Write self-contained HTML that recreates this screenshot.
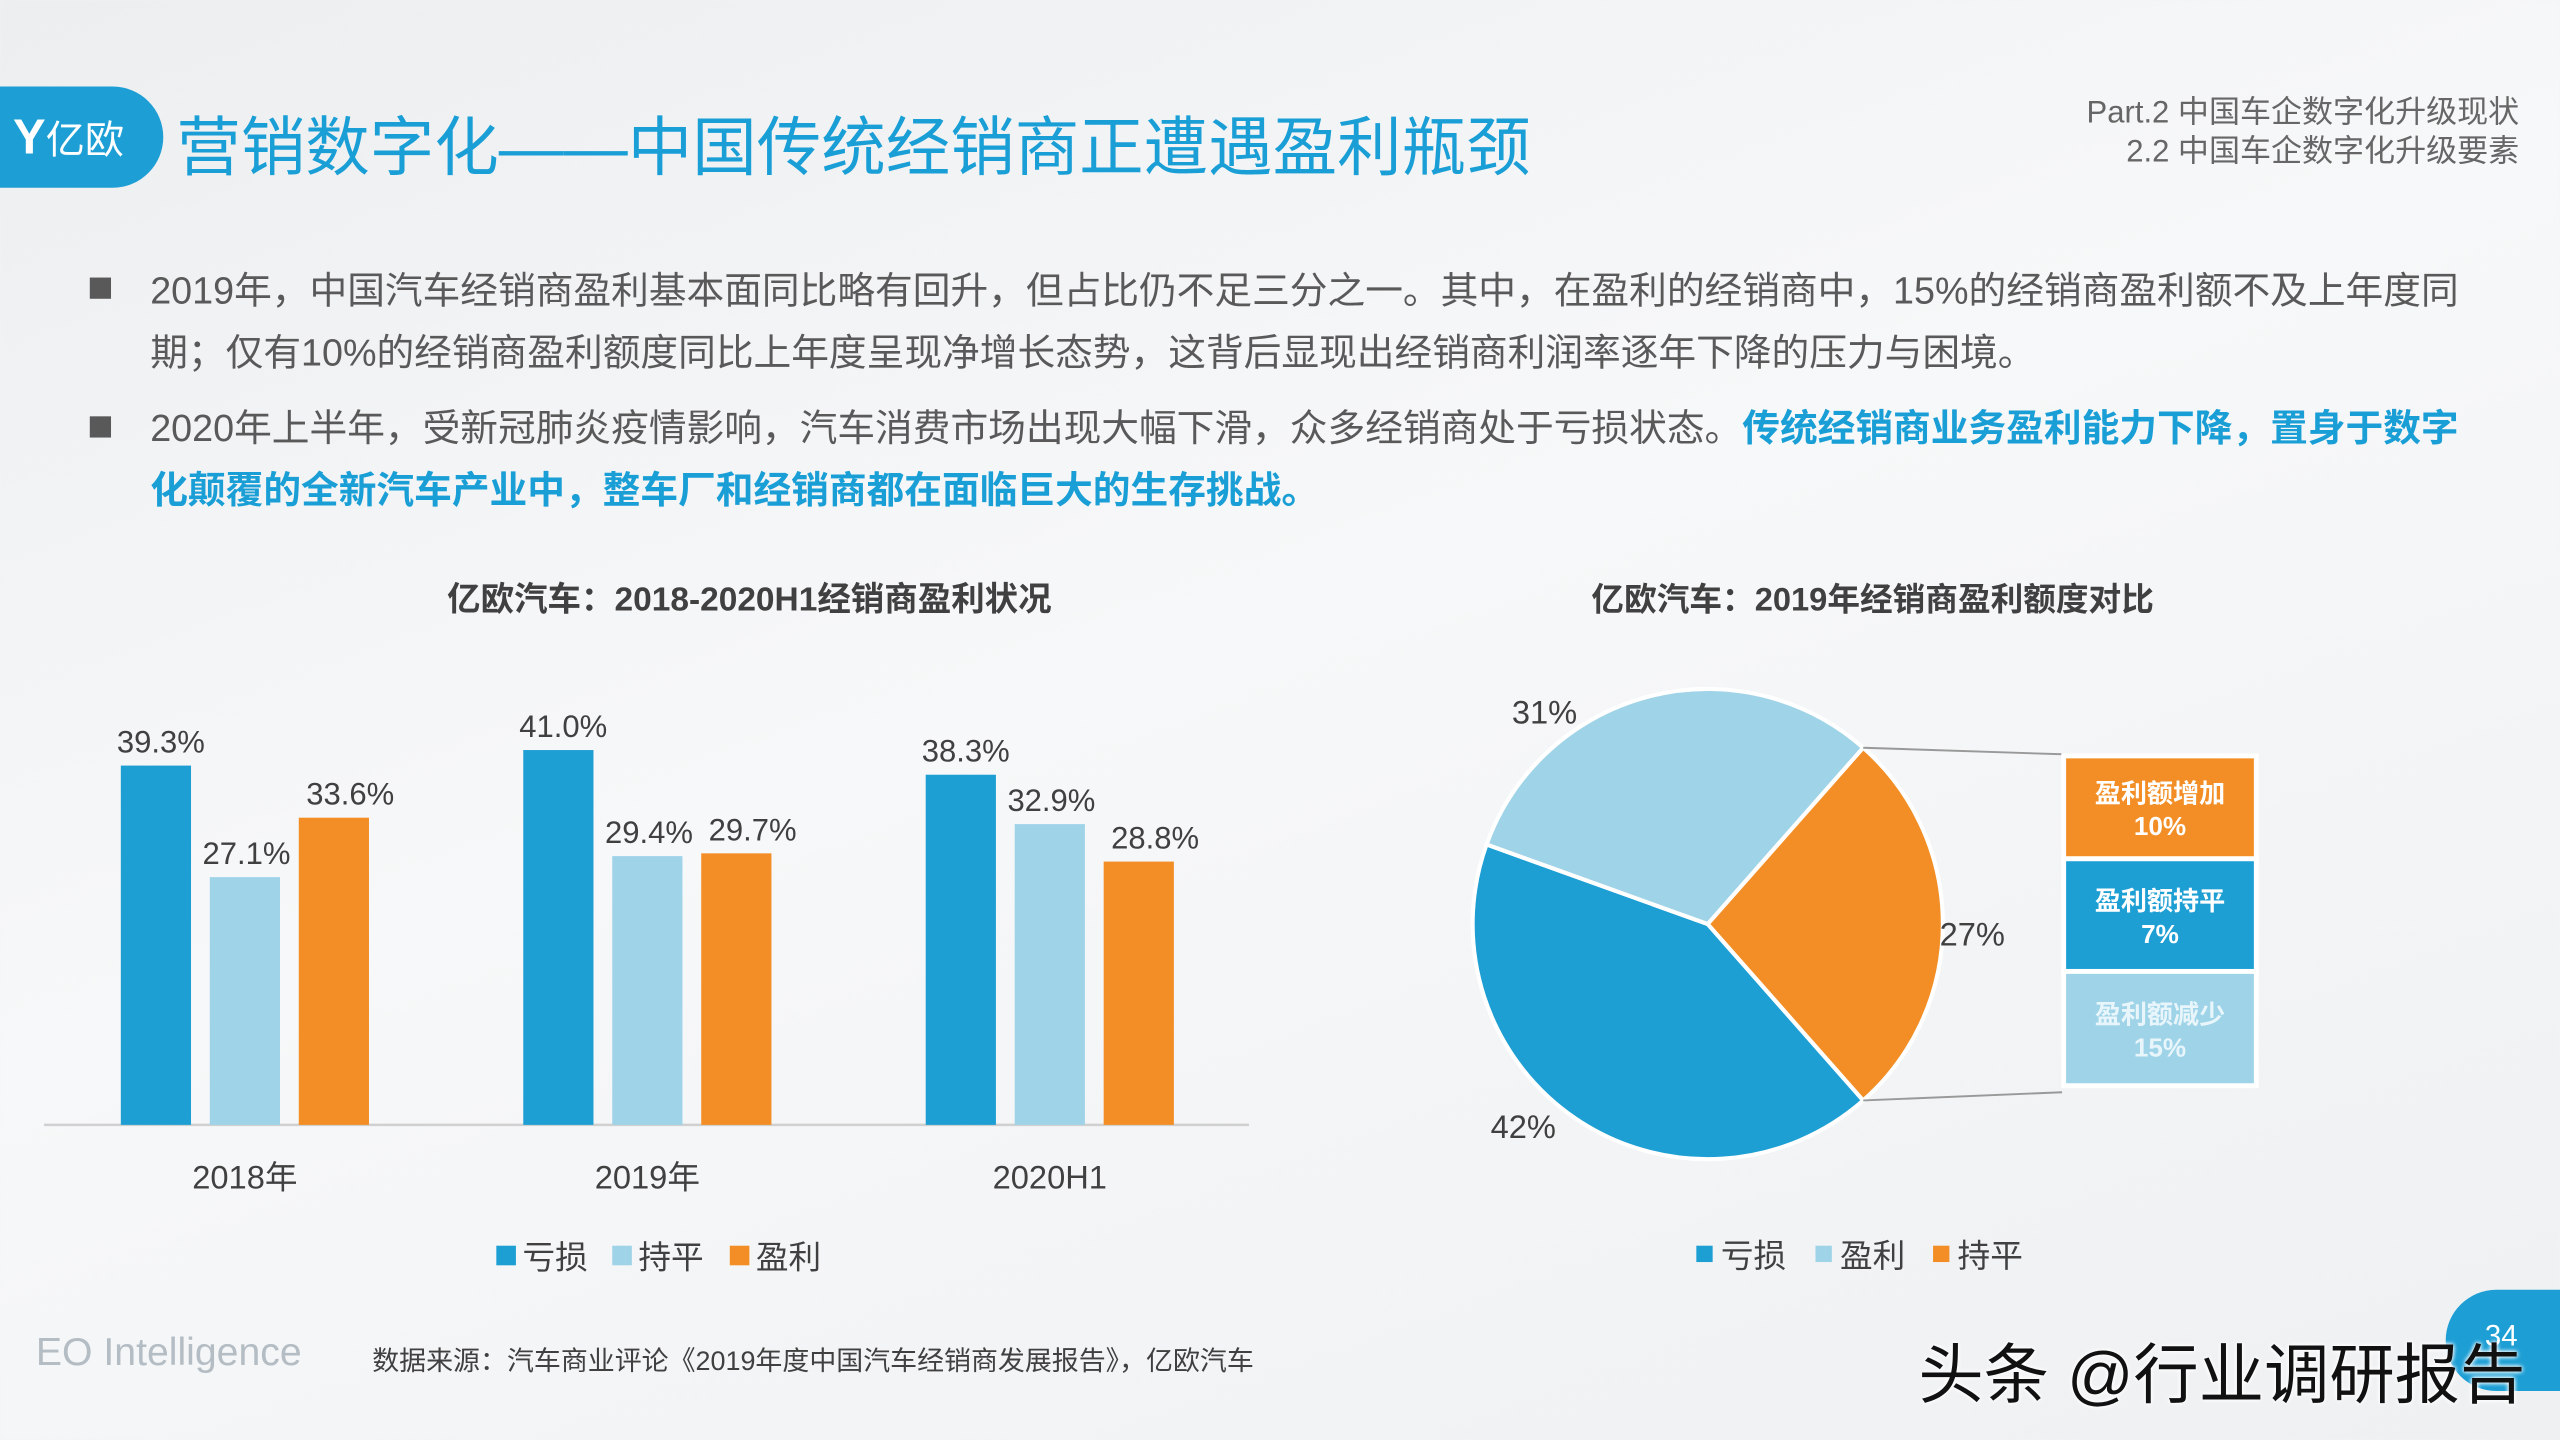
<!DOCTYPE html>
<html><head><meta charset="utf-8">
<style>
html,body{margin:0;padding:0;width:2560px;height:1440px;overflow:hidden;}
body{background:linear-gradient(160deg,#eceef0 0%,#f7f8f9 45%,#eef0f2 100%);font-family:"Liberation Sans","Noto Sans CJK SC",sans-serif;}
#stage{position:absolute;left:0;top:0;width:1568px;height:882px;transform:scale(1.63265);transform-origin:0 0;}
.abs{position:absolute;white-space:nowrap;}
.body{font-size:23.1px;color:#595959;}
.hl{color:#1a9ed6;font-weight:bold;}
</style></head><body>
<div id="stage">
  <div class="abs" style="left:0;top:53px;width:100px;height:62px;background:#1d9fd5;border-radius:0 31px 31px 0;"></div>
  <div class="abs" style="left:8px;top:66px;color:#fff;font-size:24px;"><span style="font-size:30px;font-weight:bold;">Y</span>亿欧</div>
  <div class="abs" style="left:108px;top:59px;font-size:39.5px;color:#1a9ed6;">营销数字化——中国传统经销商正遭遇盈利瓶颈</div>
  <div class="abs" style="right:25px;top:58px;font-size:19px;color:#666;text-align:right;line-height:24px;">Part.2 中国车企数字化升级现状<br>2.2 中国车企数字化升级要素</div>

  <div class="abs" style="left:55px;top:170px;width:13px;height:13px;background:#595959;"></div>
  <div class="abs body" style="left:92px;top:159px;line-height:38px;">2019年，中国汽车经销商盈利基本面同比略有回升，但占比仍不足三分之一。其中，在盈利的经销商中，15%的经销商盈利额不及上年度同<br>期；仅有10%的经销商盈利额度同比上年度呈现净增长态势，这背后显现出经销商利润率逐年下降的压力与困境。</div>
  <div class="abs" style="left:55px;top:255px;width:13px;height:13px;background:#595959;"></div>
  <div class="abs body" style="left:92px;top:243px;line-height:38px;">2020年上半年，受新冠肺炎疫情影响，汽车消费市场出现大幅下滑，众多经销商处于亏损状态。<span class="hl">传统经销商业务盈利能力下降，置身于数字</span><br><span class="hl">化颠覆的全新汽车产业中，整车厂和经销商都在面临巨大的生存挑战。</span></div>

  <div class="abs" style="left:459px;top:350px;transform:translateX(-50%);font-size:20.5px;font-weight:bold;color:#404040;">亿欧汽车：2018-2020H1经销商盈利状况</div>
  <div class="abs" style="left:1147px;top:351px;transform:translateX(-50%);font-size:20px;font-weight:bold;color:#404040;">亿欧汽车：2019年经销商盈利额度对比</div>

  <svg id="chart" class="abs" style="left:0;top:0;" width="1568" height="882"></svg>

  <div class="abs" style="left:22px;top:815px;font-size:24px;color:#b4bcc4;">EO Intelligence</div>
  <div class="abs" style="left:228px;top:820px;font-size:16.5px;color:#404040;">数据来源：汽车商业评论《2019年度中国汽车经销商发展报告》，亿欧汽车</div>
  <div class="abs" style="left:1498px;top:790px;width:90px;height:62px;background:#1d9fd5;border-radius:31px 0 0 31px;"></div>
  <div class="abs" style="left:1522px;top:808px;font-size:18px;color:#fff;">34</div>
  <div class="abs" style="left:1175px;top:810px;font-size:40px;color:#111;text-shadow:0 0 3px #fff,0 0 3px #fff;">头条 @行业调研报告</div>
</div>
<script>
const categories=["2018年","2019年","2020H1"];
const lossVals=[39.3,41.0,38.3];
const flatVals=[27.1,29.4,32.9];
const profitVals=[33.6,29.7,28.8];
const barSeriesNames=["亏损","持平","盈利"];
const pieNames=["亏损","盈利","持平"];
const pieVals=[42,31,27];
const breakdownNames=["盈利额增加","盈利额持平","盈利额减少"];
const breakdownVals=[10,7,15];

const NS="http://www.w3.org/2000/svg";
const svg=document.getElementById('chart');
const C={blue:"#1e9fd4",light:"#9fd3e8",orange:"#f28e25"};
function mk(t,a,p){const e=document.createElementNS(NS,t);for(const k in a)e.setAttribute(k,a[k]);(p||svg).appendChild(e);return e;}
const baseY=689, pxPerPct=5.6;
function yScale(v){return baseY-v*pxPerPct;}
function groupX(i){return 74+i*246.5;}
const axis=mk('line',{x1:27,x2:765,y1:baseY,y2:baseY,stroke:"#d0d0d0","stroke-width":1.5});


const series=[lossVals,flatVals,profitVals], scol=[C.blue,C.light,C.orange], sname=["loss","flat","profit"];
const labelDx=[3,1,10];
categories.forEach((c,i)=>{
  series.forEach((s,j)=>{
    const x=groupX(i)+j*54.5, y=yScale(s[i]);
    const r=mk('rect',{x:x,y:y,width:43,height:baseY-y,fill:scol[j]});
    
    
    const t=mk('text',{x:x+21.5+labelDx[j],y:y-8,"text-anchor":"middle","font-size":19,fill:"#404040"});
    t.textContent=s[i].toFixed(1)+"%";
    
    
  });
  const ct=mk('text',{x:groupX(i)+76,y:728,"text-anchor":"middle","font-size":20,fill:"#404040"});
  ct.textContent=c;
  
  
});
[304,375,447].forEach((lx,j)=>{
  const g=mk('g',{});
  
  
  mk('rect',{x:lx,y:763,width:12,height:12,fill:scol[j]},g);
  const t=mk('text',{x:lx+16,y:777,"font-size":20,fill:"#404040"},g);t.textContent=barSeriesNames[j];
});
const cx=1046,cy=566,R=144;
const pcol=[C.blue,C.light,C.orange];
const total=pieVals.reduce((a,b)=>a+b,0);
const orangeSpan=pieVals[2]/total*360;
let ang=orangeSpan/2;
const labelPos=[[933,697],[946,443],[1208,579]];
[0,1,2].forEach(k=>{
  const a0=ang, a1=ang+pieVals[k]/total*360; ang=a1;
  const r0=a0*Math.PI/180, r1=a1*Math.PI/180;
  const x0=cx+R*Math.cos(r0),y0=cy+R*Math.sin(r0),x1=cx+R*Math.cos(r1),y1=cy+R*Math.sin(r1);
  const p=mk('path',{d:`M${cx},${cy}L${x0},${y0}A${R},${R} 0 ${(a1-a0)>180?1:0} 1 ${x1},${y1}Z`,fill:pcol[k],stroke:"#fff","stroke-width":2.5});
  
  
  const t=mk('text',{x:labelPos[k][0],y:labelPos[k][1],"text-anchor":"middle","font-size":20,fill:"#404040"});
  t.textContent=pieVals[k]+"%";
  
  
});
const ra=orangeSpan/2*Math.PI/180;
const l1=mk('line',{x1:cx+R*Math.cos(-ra),y1:cy+R*Math.sin(-ra),x2:1263,y2:462,stroke:"#999","stroke-width":1.2});


const l2=mk('line',{x1:cx+R*Math.cos(ra),y1:cy+R*Math.sin(ra),x2:1263,y2:669,stroke:"#999","stroke-width":1.2});


let by=463; const bcol=[C.orange,C.blue,C.light], btxt=["#fff","#fff","#e8f6fb"];
breakdownVals.forEach((v,i)=>{
  const hh=[63,69,70][i];
  const g=mk('g',{});
  
  
  mk('rect',{x:1264,y:by,width:118,height:hh,fill:bcol[i],stroke:"#fff","stroke-width":3},g);
  const t1=mk('text',{x:1323,y:by+hh/2-3,"text-anchor":"middle","font-size":16,"font-weight":"bold",fill:btxt[i]},g);t1.textContent=breakdownNames[i];
  const t2=mk('text',{x:1323,y:by+hh/2+17,"text-anchor":"middle","font-size":16,"font-weight":"bold",fill:btxt[i]},g);t2.textContent=v+"%";
  by+=hh;
});
[1039,1112,1184].forEach((lx,j)=>{
  const g=mk('g',{});
  
  
  mk('rect',{x:lx,y:763,width:10,height:10,fill:pcol[j]},g);
  const t=mk('text',{x:lx+15,y:776,"font-size":20,fill:"#404040"},g);t.textContent=pieNames[j];
});
</script>
</body></html>
